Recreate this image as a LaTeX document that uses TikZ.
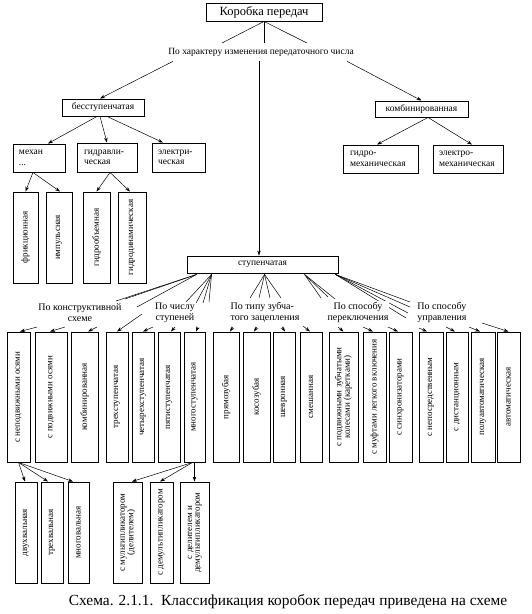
\documentclass[tikz,border=0pt]{standalone}
\usepackage{fontspec}
\usepackage{graphicx}
\setmainfont{Liberation Serif}
\usetikzlibrary{arrows.meta,calc}
\newcommand{\vt}[1]{\rotatebox{90}{#1}}
\newcommand{\vtt}[2]{\rotatebox{90}{\begin{tabular}{@{}c@{}}#1\\#2\end{tabular}}}
\begin{document}
\begin{tikzpicture}[x=1pt,y=-1pt,
 bx/.style={draw,line width=0.9pt,inner sep=0pt,font=\fontsize{9.5}{10.5}\selectfont},
 lbx/.style={bx,align=left},
 vb/.style={draw,line width=0.9pt,inner sep=0pt,font=\fontsize{9}{9}\selectfont},
 con/.style={line width=0.5pt},
 arr/.style={line width=0.5pt,-{Stealth[length=5pt,width=3.5pt]}},
 grp/.style={fill=white,inner sep=1pt,font=\fontsize{10}{11}\selectfont}]
\useasboundingbox (0,0) rectangle (531,614);
\renewcommand{\arraystretch}{0.85}

% level 0
\node[bx,font=\fontsize{12.5}{14}\selectfont,minimum width=116pt,minimum height=18pt] (top) at (264,12) {Коробка передач};
\node[inner sep=1pt,font=\fontsize{9.5}{11}\selectfont] (lab0) at (261,52) {По характеру изменения передаточного числа};
\coordinate (t1) at (222,43);
\coordinate (t2) at (264,43);
\coordinate (t3) at (307,43);
\draw[con] (top.south) -- (t1);
\draw[con] (top.south) -- (t2);
\draw[con] (top.south) -- (t3);

% level 1
\node[bx,minimum width=82pt,minimum height=17pt] (bes) at (103,107.5) {бесступенчатая};
\node[bx,minimum width=93pt,minimum height=16pt] (komb) at (421.5,109) {комбинированная};
\node[bx,minimum width=151pt,minimum height=17pt] (stup) at (262.5,264.5) {ступенчатая};
\draw[arr] ([xshift=-88pt,yshift=-4pt]lab0.south) -- ([xshift=-3pt]bes.north);
\draw[arr] ([xshift=-2pt,yshift=-4pt]lab0.south) -- ([xshift=-3.5pt]stup.north);
\draw[arr] ([xshift=86pt,yshift=-4pt]lab0.south) -- (komb.north);

% level 2 (upper)
\node[lbx,minimum width=52pt,minimum height=28pt,text width=40pt] (mech) at (39,158) {механ\\...};
\node[lbx,minimum width=60pt,minimum height=29pt,text width=46pt] (gidr) at (107,157.5) {гидравли-\\ческая};
\node[lbx,minimum width=53pt,minimum height=29pt,text width=41pt] (elek) at (178.5,157.5) {электри-\\ческая};
\node[lbx,minimum width=75pt,minimum height=28pt,text width=61pt] (gm) at (380.5,159) {гидро-\\механическая};
\node[lbx,minimum width=70pt,minimum height=28pt,text width=58pt] (em) at (468,159) {электро-\\механическая};
\draw[arr] ([xshift=-6pt]bes.south) -- ([xshift=9pt]mech.north);
\draw[arr] ([xshift=-3pt]bes.south) -- (gidr.north);
\draw[arr] ([xshift=4pt]bes.south) -- ([xshift=-15.5pt]elek.north);
\draw[arr] ([xshift=6.5pt]komb.south) -- ([xshift=-3.5pt]gm.north);
\draw[arr] ([xshift=6.5pt]komb.south) -- ([xshift=4pt]em.north);

% level 3 (upper, vertical)
\node[vb,minimum width=25pt,minimum height=91pt] (fr) at (25.5,237.5) {\vt{фрикционная}};
\node[vb,minimum width=26pt,minimum height=91pt] (imp) at (59,237.5) {\vt{импульсная}};
\node[vb,minimum width=27pt,minimum height=91pt] (go) at (96.5,237.5) {\vt{гидрообъемная}};
\node[vb,minimum width=28pt,minimum height=91pt] (gd) at (132,237.5) {\vt{гидродинамическая}};
\draw[arr] ([xshift=-6pt]mech.south) -- (fr.north);
\draw[arr] ([xshift=-6pt]mech.south) -- ([xshift=1pt]imp.north);
\draw[arr] ([xshift=3pt]gidr.south) -- (go.north);
\draw[arr] ([xshift=3pt]gidr.south) -- ([xshift=-2pt]gd.north);

% row of classification boxes
\node[vb,minimum width=23pt,minimum height=130pt] (b1) at (18.5,397) {\vt{с неподвижными осями}};
\node[vb,minimum width=32pt,minimum height=130pt] (b2) at (51,397) {\vt{с подвижными осями}};
\node[vb,minimum width=27pt,minimum height=130pt] (b3) at (84.5,397) {\vt{комбинированная}};
\node[vb,minimum width=22pt,minimum height=130pt] (b4) at (117,397) {\vt{трехступенчатая}};
\node[vb,minimum width=22pt,minimum height=130pt] (b5) at (143,397) {\vt{четырехступенчатая}};
\node[vb,minimum width=22pt,minimum height=130pt] (b6) at (169,397) {\vt{пятиступенчатая}};
\node[vb,minimum width=21pt,minimum height=130pt] (b7) at (194.5,397) {\vt{многоступенчатая}};
\node[vb,minimum width=26pt,minimum height=130pt] (b8) at (226,397) {\vt{прямозубая}};
\node[vb,minimum width=27pt,minimum height=130pt] (b9) at (256.5,397) {\vt{косозубая}};
\node[vb,minimum width=22pt,minimum height=130pt] (b10) at (284,397) {\vt{шевронная}};
\node[vb,minimum width=22pt,minimum height=130pt] (b11) at (311,397) {\vt{смешанная}};
\node[vb,minimum width=29pt,minimum height=130pt] (b12) at (343.5,397) {\vtt{с подвижными зубчатыми}{колесами (каретками)}};
\node[vb,minimum width=23pt,minimum height=130pt] (b13) at (374.5,397) {\vt{с муфтами легкого включения}};
\node[vb,minimum width=23pt,minimum height=130pt] (b14) at (400.5,397) {\vt{с синхронизаторами}};
\node[vb,minimum width=24pt,minimum height=130pt] (b15) at (431,397) {\vt{с непосредственным}};
\node[vb,minimum width=22pt,minimum height=130pt] (b16) at (457,397) {\vt{с дистанционным}};
\node[vb,minimum width=24pt,minimum height=130pt] (b17) at (483,397) {\vt{полуавтоматическая}};
\node[vb,minimum width=23pt,minimum height=130pt] (b18) at (508.5,397) {\vt{автоматическая}};

% fan lines from "ступенчатая"
\coordinate (s1) at ([xshift=10pt,yshift=-1pt]stup.south west);
\coordinate (s2) at ([xshift=25pt,yshift=-1pt]stup.south west);
\coordinate (s3) at ([xshift=78pt,yshift=-1pt]stup.south west);
\coordinate (s4) at ([xshift=118pt,yshift=-1pt]stup.south west);
\coordinate (s5) at ([xshift=-3pt,yshift=-1pt]stup.south east);
\foreach \p in {(116,301),(125,299),(137,307)} \draw[con] (s1) -- \p;
\foreach \p in {(185,303),(196,303),(203,303),(209,302)} \draw[con] (s2) -- \p;
\foreach \p in {(250,298),(259,298),(270,298),(281,298)} \draw[con] (s3) -- \p;
\foreach \p in {(321,298),(328,297),(335,299)} \draw[con] (s4) -- \p;
\foreach \p in {(410,302),(410,307),(408,313),(406,318)} \draw[con] (s5) -- \p;

% group labels
\node[grp,align=center] (g1) at (80,312.5) {По конструктивной\\схеме};
\node[grp,align=center] (g2) at (175,312.5) {По числу\\ступеней};
\node[grp,align=left] (g3) at (265,312.5) {По типу зубча-\\того зацепления};
\node[grp,align=center] (g4) at (358,312.5) {По способу\\переключения};
\node[grp,align=left] (g5) at (442,312.5) {По способу\\управления};

% short arrows to boxes
\draw[arr] (37,327) -- ([xshift=1.5pt]b1.north);
\draw[arr] (65,327) -- ([xshift=-1pt]b2.north);
\draw[arr] (97,327) -- ([xshift=3.5pt]b3.north);
\draw[arr] (142,314) -- (b4.north);
\draw[arr] (153,327) -- (b5.north);
\draw[arr] (175,327) -- ([xshift=2pt]b6.north);
\draw[arr] (198,327) -- ([xshift=1.5pt]b7.north);
\draw[arr] (233,327) -- ([xshift=4pt]b8.north);
\draw[arr] (257,327) -- ([xshift=-2.5pt]b9.north);
\draw[arr] (282,327) -- ([xshift=1pt]b10.north);
\draw[arr] (303,326) -- ([xshift=-1pt]b11.north);
\draw[arr] (338,327) -- (b12.north);
\draw[arr] (363,327) -- ([xshift=-1.5pt]b13.north);
\draw[arr] (388,327) -- ([xshift=-2.5pt]b14.north);
\draw[arr] (419,328) -- ([xshift=-4pt]b15.north);
\draw[arr] (446,327) -- ([xshift=-2pt]b16.north);
\draw[arr] (469,327) -- ([xshift=-3pt]b17.north);
\draw[arr] (482,323) -- (b18.north);

% bottom level
\node[vb,minimum width=22pt,minimum height=101pt] (c1) at (26,532.5) {\vt{двухвальная}};
\node[vb,minimum width=22pt,minimum height=101pt] (c2) at (52,532.5) {\vt{трехвальная}};
\node[vb,minimum width=21pt,minimum height=101pt] (c3) at (78.5,532.5) {\vt{многовальная}};
\node[vb,minimum width=29pt,minimum height=101pt] (c4) at (127.5,532.5) {\vtt{с мультипликатором}{(делителем)}};
\node[vb,minimum width=23pt,minimum height=101pt] (c5) at (161.5,532.5) {\vt{с демультипликатором}};
\node[vb,minimum width=29pt,minimum height=101pt] (c6) at (194.5,532.5) {\vtt{с делителем и}{демультипликатором}};
\draw[arr] (b1.south) -- ([xshift=-1pt]c1.north);
\draw[arr] (b1.south) -- ([xshift=-4pt]c2.north);
\draw[arr] (b1.south) -- ([xshift=-5.5pt]c3.north);
\draw[arr] ([xshift=-2pt]b7.south) -- ([xshift=4.5pt]c4.north);
\draw[arr] ([xshift=-2pt]b7.south) -- ([xshift=-1.5pt]c5.north);
\draw[arr] (b7.south) -- (c6.north);

% caption
\node[inner sep=0pt,anchor=base,font=\fontsize{15.4}{17}\selectfont] (cap) at (288,605) {Схема. 2.1.1.\ \ Классификация коробок передач приведена на схеме};
\end{tikzpicture}
\end{document}
